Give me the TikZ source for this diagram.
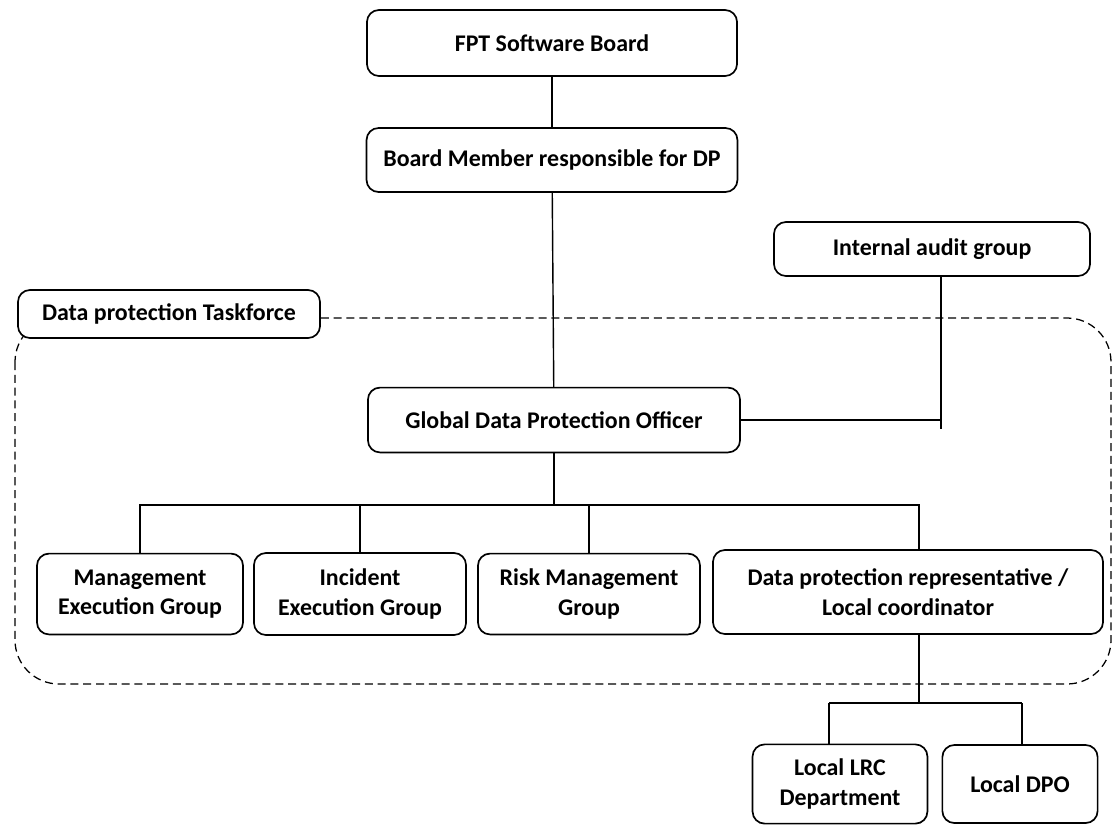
\documentclass[tikz,border=0pt]{standalone}
\usepackage{fontspec}
\setmainfont{Carlito}
\usepackage{tikz}

\begin{document}
\begin{tikzpicture}[x=0.025cm, y=-0.025cm,
    box/.style={draw, line width=1.2pt, rounded corners=0.3cm, fill=white,
      align=center, font=\fontsize{17}{21}\selectfont\bfseries, inner sep=0pt},
    link/.style={line width=1pt},
    taskforce/.style={dashed, line width=0.9pt, dash pattern=on 0.2cm off 0.12cm,
      rounded corners=1.1cm}]
  \useasboundingbox (0,0) rectangle (1113,825);
  \draw[taskforce] (15,318) rectangle (1111,684);
  \node[box, minimum width=9.25cm, minimum height=1.65cm] (fpt) at (552,43) {FPT Software Board};
  \node[box, minimum width=9.27cm, minimum height=1.6cm] (bm) at (552,160) {Board Member responsible for DP};
  \node[box, minimum width=7.9cm, minimum height=1.35cm] (iag) at (932,249) {Internal audit group};
  \node[box, minimum width=7.55cm, minimum height=1.2cm] (dpt) at (169,314) {Data protection Taskforce};
  \node[box, minimum width=9.3cm, minimum height=1.62cm] (gdpo) at (554,420) {Global Data Protection Officer};
  \node[box, minimum width=5.15cm, minimum height=2.02cm] (meg) at (140,594) {Management\\Execution Group};
  \node[box, minimum width=5.3cm, minimum height=2.05cm] (ieg) at (360,594) {Incident\\Execution Group};
  \node[box, minimum width=5.55cm, minimum height=2.02cm] (rmg) at (589,594) {Risk Management\\Group};
  \node[box, minimum width=9.75cm, minimum height=2.1cm] (dpr) at (908,592) {Data protection representative /\\Local coordinator};
  \node[box, minimum width=4.37cm, minimum height=1.98cm] (lrc) at (840,784) {Local LRC\\Department};
  \node[box, minimum width=3.88cm, minimum height=1.95cm] (ldpo) at (1020,784) {Local DPO};
  \coordinate (audit) at (941,429);
  \coordinate (bus) at (554,505);
  \coordinate (dprtap) at (919,505);
  \coordinate (lbus) at (919,703);
  \coordinate (lrctap) at (829,703);
  \coordinate (ldpotap) at (1022,703);
  \draw[link] (fpt) -- (bm);
  \draw[link] (bm) -- (gdpo);
  \draw[link] (iag.south -| audit) -- (audit);
  \draw[link] (gdpo.east) -- (gdpo.east -| audit);
  \draw[link] (gdpo.south) -- (bus);
  \draw[link] (bus) -| (meg.north);
  \draw[link] (bus) -| (ieg.north);
  \draw[link] (bus) -| (rmg.north);
  \draw[link] (bus) -- (dprtap) -- (dprtap |- dpr.north);
  \draw[link] (dpr.south -| lbus) -- (lbus);
  \draw[link] (lrctap) -- (ldpotap);
  \draw[link] (lrctap) -- (lrctap |- lrc.north);
  \draw[link] (ldpotap) -- (ldpotap |- ldpo.north);
\end{tikzpicture}
\end{document}
